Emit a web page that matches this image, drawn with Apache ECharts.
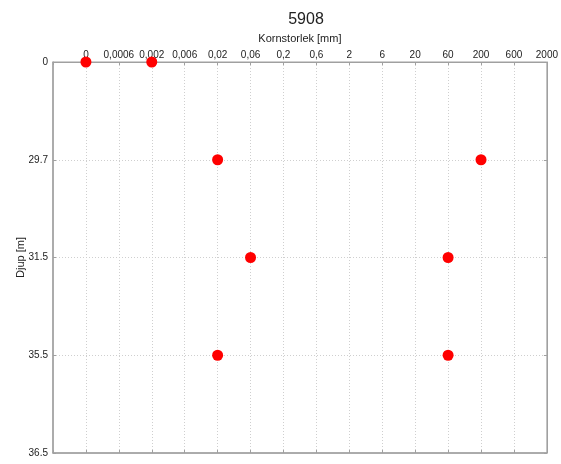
<!DOCTYPE html>
<html>
<head>
<meta charset="utf-8">
<script src="https://cdn.jsdelivr.net/npm/echarts@6/dist/echarts.min.js"></script>
<style>
  html, body { margin: 0; padding: 0; background: #fff; }
  #chart { width: 561px; height: 464px; }
</style>
</head>
<body>
<div id="chart"></div>
<script>
// Grain size classes (mm) along the top axis
const sizeLabels = ['0', '0,0006', '0,002', '0,006', '0,02', '0,06', '0,2', '0,6', '2', '6', '20', '60', '200', '600', '2000'];
// Sample depths (m), drawn evenly spaced down the left axis
const depthLabels = ['0', '29.7', '31.5', '35.5', '36.5'];

// Each sample: smallest and largest grain size at a given depth
const sampleDepths = ['0', '29.7', '31.5', '35.5'];
const minSize = ['0', '0,02', '0,06', '0,02'];
const maxSize = ['0,002', '200', '60', '60'];

const points = [];
sampleDepths.forEach((d, i) => {
  const y = depthLabels.indexOf(d);
  points.push([sizeLabels.indexOf(minSize[i]), y]);
  points.push([sizeLabels.indexOf(maxSize[i]), y]);
});

const axisGray = '#a0a0a0';
const textColor = '#222';
const font = 'Liberation Sans, Arial, sans-serif';
const dotted = { color: '#cfcfcf', type: [1, 2], width: 1 };

const chart = echarts.init(document.getElementById('chart'), null, { renderer: 'canvas' });
chart.setOption({
  animation: false,
  title: {
    text: '5908',
    left: 301, top: 7, textAlign: 'center',
    textStyle: { fontSize: 16, fontWeight: 'normal', color: textColor, fontFamily: font }
  },
  grid: {
    left: 53, right: 12, top: 62, bottom: 11,
    show: true, borderColor: axisGray, borderWidth: 1
  },
  xAxis: [{
    type: 'value', position: 'top',
    min: -1, max: sizeLabels.length - 1, interval: 1,
    name: 'Kornstorlek [mm]', nameLocation: 'middle', nameGap: 18, nameMoveOverlap: false,
    nameTextStyle: { fontSize: 11, color: textColor, fontFamily: font },
    axisLine: { show: true, onZero: false, lineStyle: { color: axisGray } },
    axisTick: { show: true, inside: true, length: 3, lineStyle: { color: axisGray } },
    axisLabel: {
      fontSize: 10, color: textColor, fontFamily: font, margin: 2,
      formatter: v => (v >= 0 ? sizeLabels[v] : '')
    },
    splitLine: { show: true, lineStyle: dotted }
  }, {
    type: 'value', position: 'bottom',
    min: -1, max: sizeLabels.length - 1, interval: 1,
    axisLine: { show: true, onZero: false, lineStyle: { color: axisGray, width: 1.5 } },
    axisTick: { show: true, inside: true, length: 3, lineStyle: { color: axisGray } },
    axisLabel: { show: false },
    splitLine: { show: false }
  }],
  yAxis: [{
    type: 'value', inverse: true,
    min: 0, max: depthLabels.length - 1, interval: 1,
    name: 'Djup [m]', nameLocation: 'middle', nameGap: 27, nameRotate: 90, nameMoveOverlap: false,
    nameTextStyle: { fontSize: 11, color: textColor, fontFamily: font },
    axisLine: { show: true, onZero: false, lineStyle: { color: axisGray, width: 1.5 } },
    axisTick: { show: true, inside: true, length: 3, lineStyle: { color: axisGray } },
    axisLabel: {
      fontSize: 10, color: textColor, fontFamily: font, margin: 5,
      formatter: v => depthLabels[v]
    },
    splitLine: { show: true, lineStyle: dotted }
  }, {
    type: 'value', inverse: true, position: 'right',
    min: 0, max: depthLabels.length - 1, interval: 1,
    axisLine: { show: true, onZero: false, lineStyle: { color: axisGray } },
    axisTick: { show: true, inside: true, length: 3, lineStyle: { color: axisGray } },
    axisLabel: { show: false },
    splitLine: { show: false }
  }],
  series: [{
    type: 'scatter',
    data: points,
    symbol: 'circle',
    symbolSize: 11,
    itemStyle: { color: '#ff0000', opacity: 1 },
    z: 5
  }]
});
</script>
</body>
</html>
